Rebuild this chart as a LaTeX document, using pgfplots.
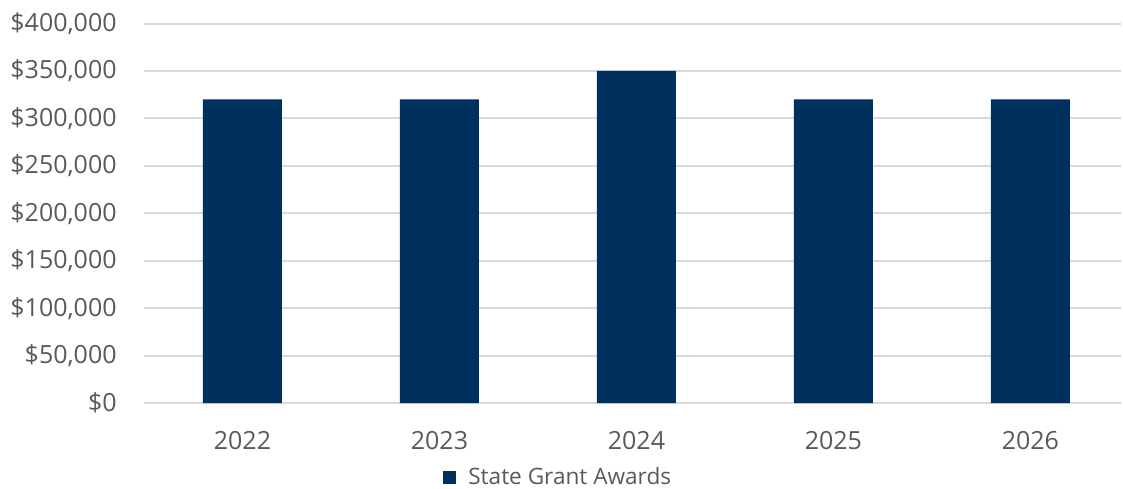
\documentclass[border=0pt]{standalone}
\usepackage{pgfplots}
\pgfplotsset{compat=1.18}
\usepackage{fontspec}
\setmainfont{Open Sans}
\definecolor{barblue}{RGB}{0,48,94}
\definecolor{gridgray}{RGB}{217,217,217}
\definecolor{txtgray}{RGB}{89,89,89}
\begin{document}
\begin{tikzpicture}
\begin{axis}[
  scale only axis, width=488.5pt, height=189.75pt,
  xmin=-0.5, xmax=4.46, ymin=0, ymax=400000,
  scaled y ticks=false,
  ytick={0,50000,100000,150000,200000,250000,300000,350000,400000},
  yticklabels={\$0,{\$50,000},{\$100,000},{\$150,000},{\$200,000},{\$250,000},{\$300,000},{\$350,000},{\$400,000}},
  xtick={0,1,2,3,4}, xticklabels={2022,2023,2024,2025,2026},
  axis line style={draw=none},
  major tick length=0pt,
  ymajorgrids, grid style={gridgray, line width=1pt},
  tick label style={font=\fontsize{12.5}{15}\selectfont, text=txtgray},
  yticklabel style={anchor=east, inner sep=0pt, xshift=-13.5pt},
  xticklabel style={anchor=north, inner sep=0pt, yshift=-14pt},
  legend style={at={(0.425,0)}, anchor=center, yshift=-37pt, draw=none, fill=none,
    font=\fontsize{11.3}{13}\selectfont, text=txtgray, inner sep=0pt},
  legend image code/.code={\fill[barblue] (0pt,-3.25pt) rectangle (6.5pt,3.25pt); \path (10.5pt,0pt);},
  legend cell align=left,
]
\addplot[ybar, bar width=39.5pt, fill=barblue, draw=none]
  coordinates {(0,320000) (1,320000) (2,350000) (3,320000) (4,320000)};
\addlegendentry{State Grant Awards}
\end{axis}
\pgfresetboundingbox
\useasboundingbox ([xshift=-72pt,yshift=-42.5pt]current axis.south west) rectangle ++(561.5pt,244pt);
\end{tikzpicture}
\end{document}
